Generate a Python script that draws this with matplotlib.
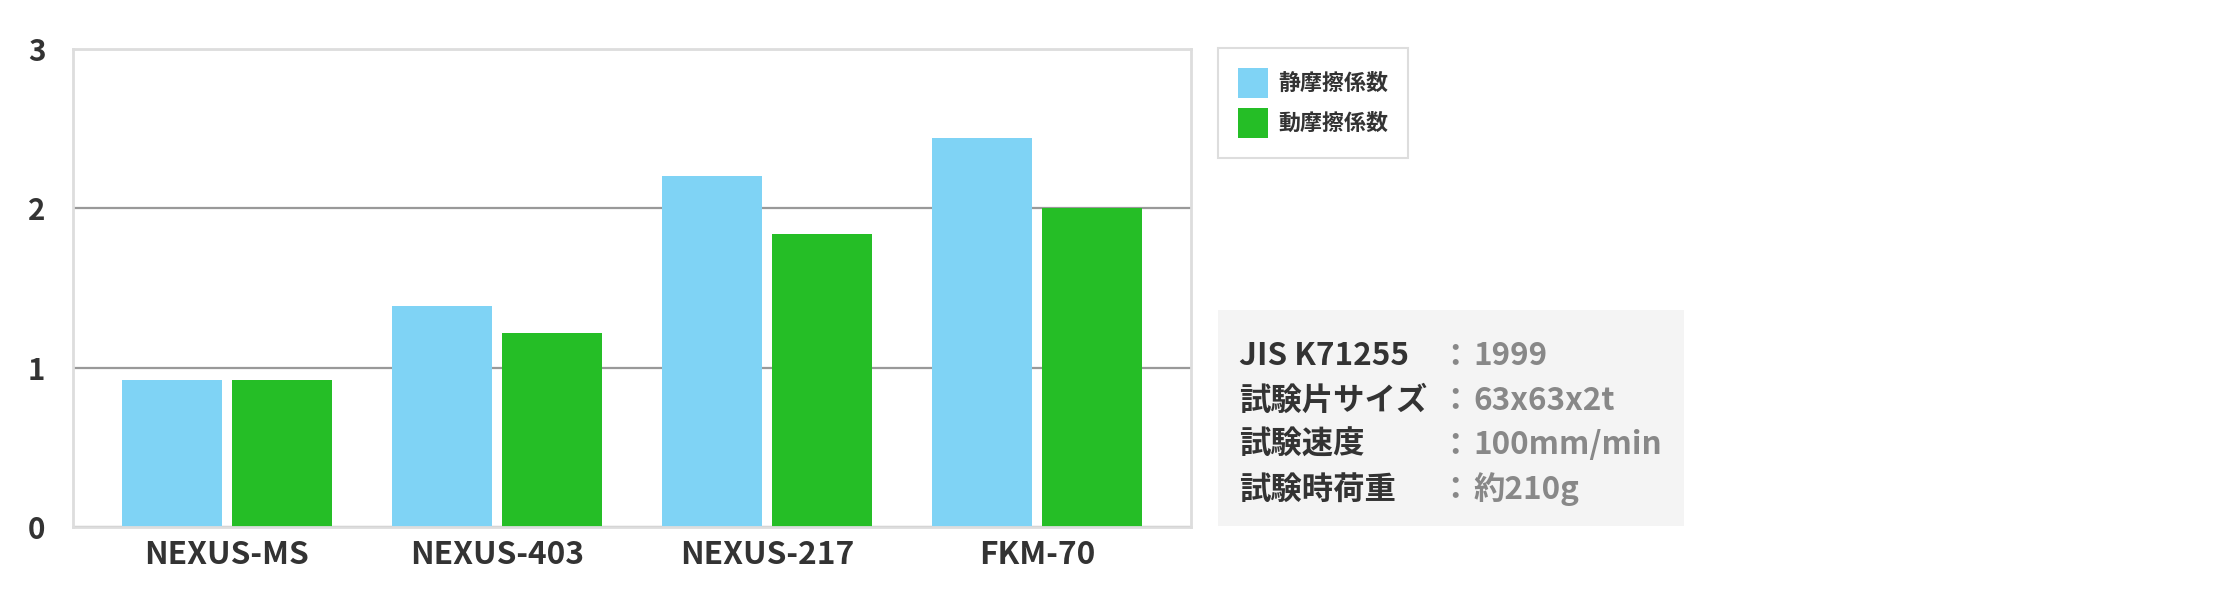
import numpy as np
import matplotlib
matplotlib.use('Agg')
import matplotlib.pyplot as plt
from matplotlib.patches import Rectangle

plt.rcParams['font.family'] = ['Noto Sans CJK JP', 'DejaVu Sans']
plt.rcParams['font.weight'] = 'bold'

# data
products = ['NEXUS-MS', 'NEXUS-403', 'NEXUS-217', 'FKM-70']
static_friction = [0.92, 1.39, 2.20, 2.44]
dynamic_friction = [0.92, 1.22, 1.84, 2.00]
series_names = ['静摩擦係数', '動摩擦係数']
y_ticks = [0, 1, 2, 3]

info_labels = ['JIS K71255', '試験片サイズ', '試験速度', '試験時荷重']
info_values = ['1999', '63x63x2t', '100mm/min', '約210g']

W, H = 2240, 600
fig = plt.figure(figsize=(W / 100, H / 100), dpi=100)
ax = fig.add_axes([73 / W, 73 / H, (1191 - 73) / W, (527 - 49) / H])

x = np.arange(len(products))
bw = 0.37
off = 0.2037
b1 = ax.bar(x - off, static_friction, bw, color='#7fd3f5', label=series_names[0], zorder=2)
b2 = ax.bar(x + off, dynamic_friction, bw, color='#25be26', label=series_names[1], zorder=2)

ax.set_xlim(-0.57, len(products) - 1 + 0.57)
ax.set_ylim(0, 3)
ax.set_yticks(y_ticks)
ax.set_xticks(x)
ax.set_xticklabels(products, fontsize=22.8, color='#333333')
ax.tick_params(axis='y', length=0, pad=20, labelsize=21.3, labelcolor='#333333')
ax.tick_params(axis='x', length=0, pad=9)

ax.set_axisbelow(True)
ax.yaxis.grid(True, color='#999999', linewidth=1.6)
for s in ax.spines.values():
    s.set_color('#dddddd')
    s.set_linewidth(2.0)
    s.set_zorder(3)

leg = fig.legend(handles=[b1, b2], loc='upper left',
                 bbox_to_anchor=(1218 / W, 1 - 48 / H),
                 fontsize=15.8, frameon=True, fancybox=False,
                 edgecolor='#dddddd', framealpha=1,
                 handlelength=1.36, handleheight=1.73,
                 handletextpad=0.5, borderpad=0.9, labelspacing=0.46,
                 borderaxespad=0)
leg.get_frame().set_linewidth(1.5)
for t in leg.get_texts():
    t.set_color('#333333')

# info panel
fig.patches.append(Rectangle((1218 / W, 1 - 526 / H), (1684 - 1218) / W, (526 - 310) / H,
                             transform=fig.transFigure, facecolor='#f4f4f4',
                             edgecolor='none', zorder=0))
baselines = [365, 409.5, 454, 498.5]
for lab, val, yb in zip(info_labels, info_values, baselines):
    fig.text(1239 / W, 1 - yb / H, lab, fontsize=22.6, color='#333333',
             ha='left', va='baseline')
    fig.text(1455 / W, 1 - yb / H, '：', fontsize=22.6, color='#888888',
             ha='center', va='baseline')
    fig.text(1473 / W, 1 - yb / H, val, fontsize=22.6, color='#888888',
             ha='left', va='baseline')

fig.savefig('out.png', dpi=100)
